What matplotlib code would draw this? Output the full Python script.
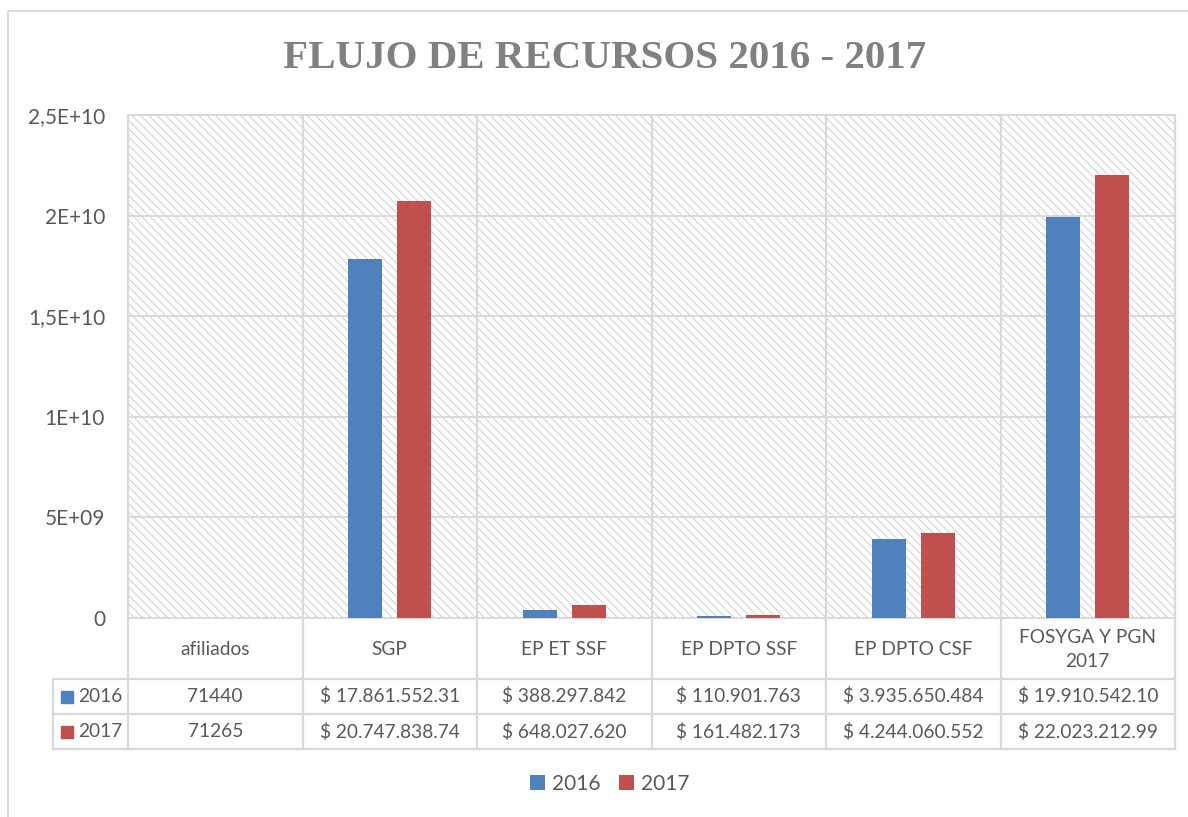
import matplotlib
matplotlib.use("Agg")
import matplotlib.pyplot as plt
import numpy as np
from matplotlib.patches import Rectangle
from matplotlib.lines import Line2D

# data
categorias = ["afiliados", "SGP", "EP ET SSF", "EP DPTO SSF", "EP DPTO CSF", "FOSYGA Y PGN\n2017"]
anios = ["2016", "2017"]
v2016 = [71440, 17861552310, 388297842, 110901763, 3935650484, 19910542100]
v2017 = [71265, 20747838740, 648027620, 161482173, 4244060552, 22023212990]
txt2016 = ["71440", "$ 17.861.552.31", "$ 388.297.842", "$ 110.901.763", "$ 3.935.650.484", "$ 19.910.542.10"]
txt2017 = ["71265", "$ 20.747.838.74", "$ 648.027.620", "$ 161.482.173", "$ 4.244.060.552", "$ 22.023.212.99"]
yticks = [0, 5e9, 1e10, 1.5e10, 2e10, 2.5e10]
ytick_labels = ["0", "5E+09", "1E+10", "1,5E+10", "2E+10", "2,5E+10"]

azul = "#4F81BD"
rojo = "#C0504D"
gris_txt = "#595959"
gris_lin = "#d9d9d9"

plt.rcParams['font.family'] = ['Lato', 'DejaVu Sans']
plt.rcParams['hatch.color'] = '#d4d4d4'
plt.rcParams['hatch.linewidth'] = 0.8

W, H = 1188, 817
fig = plt.figure(figsize=(W / 100, H / 100), dpi=100)

# plot area in pixels
L, R, T, B = 128, 1175, 115, 618
ax = fig.add_axes([L / W, 1 - B / H, (R - L) / W, (B - T) / H])

x = np.arange(len(categorias))
ancho = 0.195
ax.add_patch(Rectangle((0, 0), 1, 1, transform=ax.transAxes, fill=False,
                       hatch='\\\\\\\\', edgecolor='#d4d4d4', linewidth=0, zorder=0))
b1 = ax.bar(x - 0.14, v2016, ancho, color=azul, zorder=3, label=anios[0])
b2 = ax.bar(x + 0.14, v2017, ancho, color=rojo, zorder=3, label=anios[1])

ax.set_xlim(-0.5, len(categorias) - 0.5)
ax.set_ylim(0, 2.5e10)
ax.set_yticks(yticks)
ax.set_yticklabels(ytick_labels)
ax.set_xticks([])
ax.tick_params(axis='y', length=0, pad=16.5, labelsize=15, labelcolor=gris_txt)
for yv in yticks:
    ax.axhline(yv, color=gris_lin, lw=1.4, zorder=1)
for s in ax.spines.values():
    s.set_color(gris_lin)
    s.set_linewidth(1.4)

# table drawn in pixel space
tab = fig.add_axes([0, 0, 1, 1], zorder=5)
tab.set_xlim(0, W)
tab.set_ylim(H, 0)
tab.axis('off')
tab.patch.set_alpha(0)

ncol = len(categorias)
bordes = [L + i * (R - L) / ncol for i in range(ncol + 1)]
filas = [B, 679, 714, 749]
izq = 53
lw = 1.6
for xb in bordes:
    tab.add_line(Line2D([xb, xb], [T, filas[-1]], color=gris_lin, lw=lw))
tab.add_line(Line2D([izq, izq], [filas[1], filas[-1]], color=gris_lin, lw=lw))
for yf in filas[1:]:
    tab.add_line(Line2D([izq, R], [yf, yf], color=gris_lin, lw=lw))

fs = 13.8
for i, c in enumerate(categorias):
    cx = (bordes[i] + bordes[i + 1]) / 2
    tab.text(cx, (filas[0] + filas[1]) / 2 + 1, c, ha='center', va='center',
             fontsize=fs, color=gris_txt, linespacing=1.55)
    tab.text(cx, (filas[1] + filas[2]) / 2, txt2016[i], ha='center', va='center',
             fontsize=fs, color=gris_txt)
    tab.text(cx, (filas[2] + filas[3]) / 2, txt2017[i], ha='center', va='center',
             fontsize=fs, color=gris_txt)

for j, (a, col) in enumerate(zip(anios, [azul, rojo])):
    yc = (filas[j + 1] + filas[j + 2]) / 2
    tab.add_patch(Rectangle((61, yc - 6), 12, 12, color=col))
    tab.text(78, yc, a, ha='left', va='center', fontsize=fs, color=gris_txt)

# outer chart border
tab.add_patch(Rectangle((8, 11), W, H, fill=False, edgecolor=gris_lin, lw=1.4))

fig.text(605 / W, 1 - 59 / H, "FLUJO DE RECURSOS 2016 - 2017", ha='center', va='center',
         fontsize=29.5, fontweight='bold', color='#808080', family='Liberation Serif')

fig.legend(handles=[b1, b2], loc='center', bbox_to_anchor=(610 / W, 1 - 784 / H),
           ncol=2, frameon=False, fontsize=15, handlelength=0.7, handleheight=0.7,
           handletextpad=0.35, columnspacing=0.9, labelcolor=gris_txt)

fig.savefig("out.png", dpi=100)
